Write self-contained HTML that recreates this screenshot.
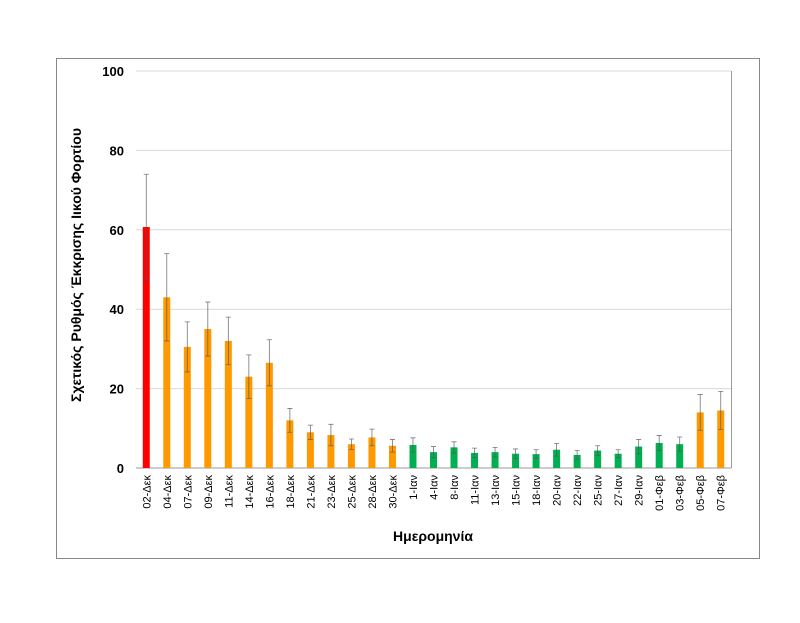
<!DOCTYPE html>
<html><head><meta charset="utf-8"><style>
body{margin:0;background:#fff;width:800px;height:618px;overflow:hidden}
svg text{font-family:"Liberation Sans",sans-serif}
</style></head><body>
<svg id="chart" width="800" height="618" xmlns="http://www.w3.org/2000/svg">
<rect x="56.5" y="58.5" width="703" height="500" fill="#fff" stroke="#888" stroke-width="1"/>
<g id="grid"></g><g id="bars"></g><g id="ticks"></g>
<text transform="translate(81,265) rotate(-90)" text-anchor="middle" font-size="14" font-weight="bold" fill="#000">Σχετικός Ρυθμός Έκκρισης Ιικού Φορτίου</text>
<text x="433" y="541" text-anchor="middle" font-size="14" font-weight="bold" fill="#000">Ημερομηνία</text>
</svg>
<script>
const categories=["02-Δεκ","04-Δεκ","07-Δεκ","09-Δεκ","11-Δεκ","14-Δεκ","16-Δεκ","18-Δεκ","21-Δεκ","23-Δεκ","25-Δεκ","28-Δεκ","30-Δεκ","1-Ιαν","4-Ιαν","8-Ιαν","11-Ιαν","13-Ιαν","15-Ιαν","18-Ιαν","20-Ιαν","22-Ιαν","25-Ιαν","27-Ιαν","29-Ιαν","01-Φεβ","03-Φεβ","05-Φεβ","07-Φεβ"];
const values=[60.7,43,30.5,35,32,23,26.5,12,9,8.3,6,7.7,5.6,5.8,4,5.2,3.8,4,3.6,3.5,4.6,3.3,4.4,3.6,5.4,6.3,6,14,14.5];
const errors=[13.3,11,6.3,6.8,6,5.5,5.8,3,1.8,2.7,1.3,2.1,1.6,1.8,1.4,1.4,1.2,1.2,1.2,1.1,1.6,1.1,1.2,1.0,1.8,1.9,1.8,4.5,4.8];
const colors=["#ff0000","#ff9900","#ff9900","#ff9900","#ff9900","#ff9900","#ff9900","#ff9900","#ff9900","#ff9900","#ff9900","#ff9900","#ff9900","#00b050","#00b050","#00b050","#00b050","#00b050","#00b050","#00b050","#00b050","#00b050","#00b050","#00b050","#00b050","#00b050","#00b050","#ff9900","#ff9900"];
const yTicks=[0,20,40,60,80,100];
const NS="http://www.w3.org/2000/svg";
const L=136,R=731,T=71,B=468;
const y=v=>B-(v/100)*(B-T);
const sp=(R-L)/categories.length;
const x=i=>L+sp*(i+0.5);
function mk(t,a,p){const e=document.createElementNS(NS,t);for(const k in a)e.setAttribute(k,a[k]);p.appendChild(e);return e;}
const grid=document.getElementById('grid'),bars=document.getElementById('bars'),ticks=document.getElementById('ticks');
yTicks.forEach(t=>{
 const g=mk('line',{x1:L,x2:R,y1:y(t),y2:y(t),stroke:t===0?'#999':'#d9d9d9','stroke-width':1},grid);
 
 
 const tx=mk('text',{x:L-12,y:y(t)+5,'text-anchor':'end','font-size':13,'font-weight':'bold'},ticks);
 tx.textContent=t;
 
 
});
const ax=mk('line',{x1:R+0.5,x2:R+0.5,y1:T,y2:B,stroke:'#999'},grid);


categories.forEach((c,i)=>{
 const cx=x(i),v=values[i],e=errors[i];
 const r=mk('rect',{x:cx-3.5,y:y(v),width:7,height:B-y(v),fill:colors[i]},bars);
 
 
 const el=mk('path',{d:`M${cx},${y(v+e)}V${y(v-e)}M${cx-2.5},${y(v+e)}H${cx+2.5}M${cx-2.5},${y(v-e)}H${cx+2.5}`,stroke:'#555','stroke-width':0.8,fill:'none','stroke-opacity':0.8},bars);
 
 
 const t=mk('text',{transform:`translate(${cx+4},${B+7}) rotate(-90)`,'text-anchor':'end','font-size':11},ticks);
 t.textContent=c;
 
 
});
</script>
</body></html>
